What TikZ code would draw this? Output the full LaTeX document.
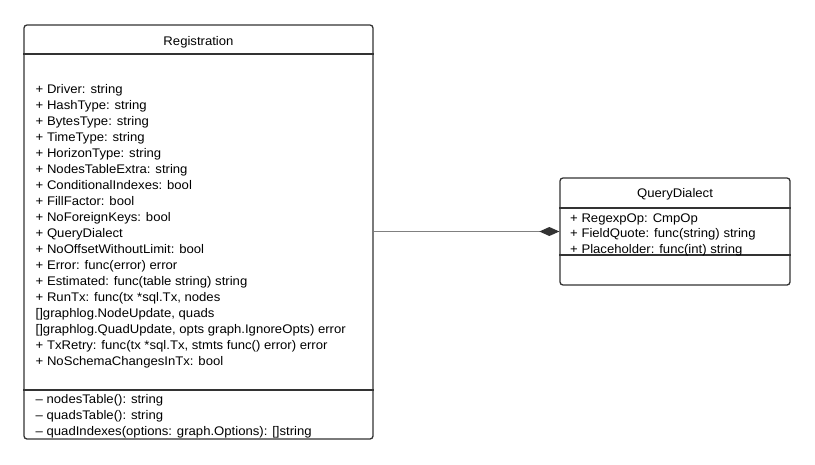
\documentclass[tikz,border=0pt]{standalone}
\usepackage{fontspec}
\setmainfont[FakeStretch=1.05]{Liberation Sans}
\usetikzlibrary{arrows.meta,positioning}
\definecolor{umlline}{HTML}{333333}
\definecolor{linkgray}{HTML}{808080}
\begin{document}
\begin{tikzpicture}[x=1pt,y=-1pt,
  classbox/.style={draw=umlline,line width=1.3pt,rounded corners=3pt,inner sep=0pt},
  member/.style={font=\fontsize{12.5}{15}\selectfont,inner sep=0pt,anchor=base west},
  classname/.style={font=\fontsize{12.5}{15}\selectfont,inner sep=0pt,anchor=base},
  divider/.style={draw=umlline,line width=1.3pt}]
  \useasboundingbox (0,0) rectangle (815,464);
  % classes
  \node[classbox,minimum width=349pt,minimum height=414pt] (reg) at (198.5,232) {};
  \node[classbox,minimum width=230pt,minimum height=107pt] (qd) at (675,231.5) {};
  \node[classname] (reg-name) at (198.5,45) {Registration};
  \node[classname] (qd-name) at (675,197.5) {QueryDialect};
  \draw[divider] (reg.west |- 0,54) -- (reg.east |- 0,54);
  \draw[divider] (reg.west |- 0,390) -- (reg.east |- 0,390);
  \draw[divider] (qd.west |- 0,208) -- (qd.east |- 0,208);
  \draw[divider] (qd.west |- 0,255) -- (qd.east |- 0,255);
  % attributes
  \foreach \txt [count=\i] in {{+ Driver: string}, {+ HashType: string},
      {+ BytesType: string}, {+ TimeType: string}, {+ HorizonType: string},
      {+ NodesTableExtra: string}, {+ ConditionalIndexes: bool},
      {+ FillFactor: bool}, {+ NoForeignKeys: bool}, {+ QueryDialect},
      {+ NoOffsetWithoutLimit: bool}, {+ Error: func(error) error},
      {+ Estimated: func(table string) string}, {+ RunTx: func(tx *sql.Tx, nodes},
      {[]graphlog.NodeUpdate, quads},
      {[]graphlog.QuadUpdate, opts graph.IgnoreOpts) error},
      {+ TxRetry: func(tx *sql.Tx, stmts func() error) error},
      {+ NoSchemaChangesInTx: bool}}
    \node[member] (reg-a\i) at (35.5,{77.3+16*\i}) {\txt};
  \foreach \txt [count=\i] in {{-- nodesTable(): string}, {-- quadsTable(): string},
      {-- quadIndexes(options: graph.Options): []string}}
    \node[member] (reg-m\i) at (35.5,{387+16*\i}) {\txt};
  \foreach \txt [count=\i] in {{+ RegexpOp: CmpOp}, {+ FieldQuote: func(string) string},
      {+ Placeholder: func(int) string}}
    \node[member] (qd-a\i) at (570,{206.5+15.5*\i}) {\txt};
  % composition
  \draw[linkgray,line width=1.1pt,-{Diamond[length=20pt,width=9pt,umlline]}]
    (qd.west -| reg.east) -- (qd.west);
\end{tikzpicture}
\end{document}
